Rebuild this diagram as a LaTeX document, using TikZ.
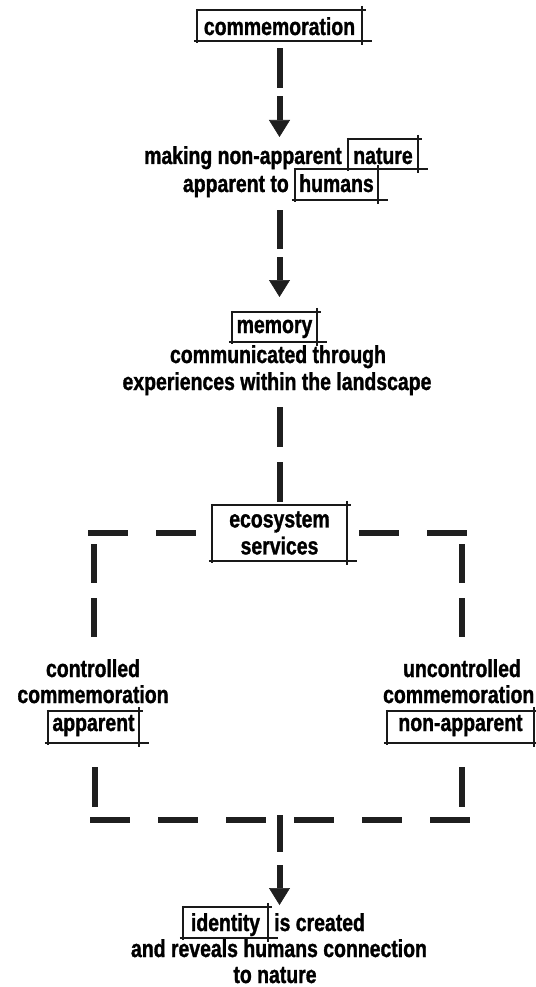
\documentclass[tikz,border=0pt]{standalone}
\usepackage{fontspec}
\newfontfamily\lbl{Liberation Sans}[FakeStretch=0.79,FakeBold=1.2]
\usetikzlibrary{arrows.meta}
\tikzset{
  txt/.style={font=\lbl\bfseries\fontsize{24.6}{27}\selectfont, inner sep=0pt, anchor=base, text=black},
  bl/.style={line width=1.6pt, black!90},
  seg/.style={line width=6pt, black!88, line cap=butt},
  hd/.style={-{Triangle[width=21pt,length=17pt,line width=0.6pt]}}
}
\newcommand\skbox[1]{%
  \draw[bl] ([xshift=-1pt]#1.north west) -- ([xshift=4pt]#1.north east);
  \draw[bl] ([xshift=-3pt]#1.south west) -- ([xshift=10pt]#1.south east);
  \draw[bl] ([yshift=1pt]#1.north west) -- ([yshift=-2pt]#1.south west);
  \draw[bl] ([yshift=4pt]#1.north east) -- ([yshift=-4pt]#1.south east);
}
\begin{document}
\begin{tikzpicture}[x=1pt,y=-1pt]
\useasboundingbox[fill=white] (0,0) rectangle (535,987);

% texts
\node[txt, minimum width=165pt, text height=25pt, text depth=6pt] (comm) at (279.5,35) {commemoration};
\node[txt, anchor=base east] (l1a) at (342,164) {making non-apparent};
\node[txt, minimum width=70pt, text height=25pt, text depth=5pt] (nat) at (383,164) {nature};
\node[txt, anchor=base east] (l2a) at (289,192) {apparent to};
\node[txt, minimum width=83pt, text height=23pt, text depth=8pt] (hum) at (336.5,192) {humans};
\node[txt, minimum width=85pt, text height=21pt, text depth=9pt] (mem) at (274.5,333) {memory};
\node[txt] (com1) at (278,363) {communicated through};
\node[txt] (com2) at (277,390) {experiences within the landscape};
\node[txt, anchor=center, align=center, minimum width=135pt, minimum height=56pt] (eco) at (279.5,533) {ecosystem\\services};
\node[txt] (ctl1) at (93,677) {controlled};
\node[txt] (ctl2) at (93,703) {commemoration};
\node[txt, minimum width=91pt, text height=20pt, text depth=12pt] (app) at (93.5,731) {apparent};
\node[txt] (unc1) at (462,677) {uncontrolled};
\node[txt, anchor=base east] (unc2) at (534.5,703) {commemoration};
\node[txt, minimum width=147pt, text height=20pt, text depth=12pt] (napp) at (460.5,731) {non-apparent};
\node[txt, minimum width=85pt, text height=24pt, text depth=7pt] (idn) at (225.5,931) {identity};
\node[txt, anchor=base west] (idn2) at (274,931) {is created};
\node[txt] (rev) at (279,957) {and reveals humans connection};
\node[txt] (ton) at (275,983) {to nature};

% sketch boxes
\skbox{comm}
\skbox{nat}
\skbox{hum}
\skbox{mem}
\skbox{eco}
\skbox{app}
\skbox{napp}
\skbox{idn}

% connectors
\coordinate (t1) at (279.5,137);
\coordinate (s2) at (279.5,210);
\coordinate (t2) at (279.5,297);
\coordinate (s3) at (279.5,407);
\coordinate (lv1) at (94,544);
\coordinate (lv2) at (94,638);
\coordinate (rv1) at (462,544);
\coordinate (rv2) at (462,638);
\coordinate (lv3) at (95,767);
\coordinate (lv4) at (95,807);
\coordinate (rv3) at (462,767);
\coordinate (rv4) at (462,807);
\coordinate (bh1) at (90,820);
\coordinate (bh2) at (470,820);
\coordinate (s4) at (279.5,815);
\coordinate (t3) at (279.5,905);

\draw[seg, hd, dash pattern=on 40pt off 8pt on 300pt] ([yshift=-7pt]comm.south) -- (t1);
\draw[seg, hd, dash pattern=on 39pt off 8pt on 300pt] (s2) -- (t2);
\draw[seg, dash pattern=on 40pt off 15pt] (s3) -- ([yshift=3pt]eco.north);
\draw[seg, dash pattern=on 40pt off 28pt] ([xshift=-16pt]eco.west) -- ++(-108,0);
\draw[seg, dash pattern=on 40pt off 28pt] ([xshift=12pt]eco.east) -- ++(108,0);
\draw[seg, dash pattern=on 39pt off 15pt] (lv1) -- (lv2);
\draw[seg, dash pattern=on 39pt off 15pt] (rv1) -- (rv2);
\draw[seg] (lv3) -- (lv4);
\draw[seg] (rv3) -- (rv4);
\draw[seg, dash pattern=on 40pt off 28pt] (bh1) -- (bh2);
\draw[seg, hd, dash pattern=on 37pt off 13pt on 300pt] (s4) -- (t3);
\end{tikzpicture}
\end{document}
